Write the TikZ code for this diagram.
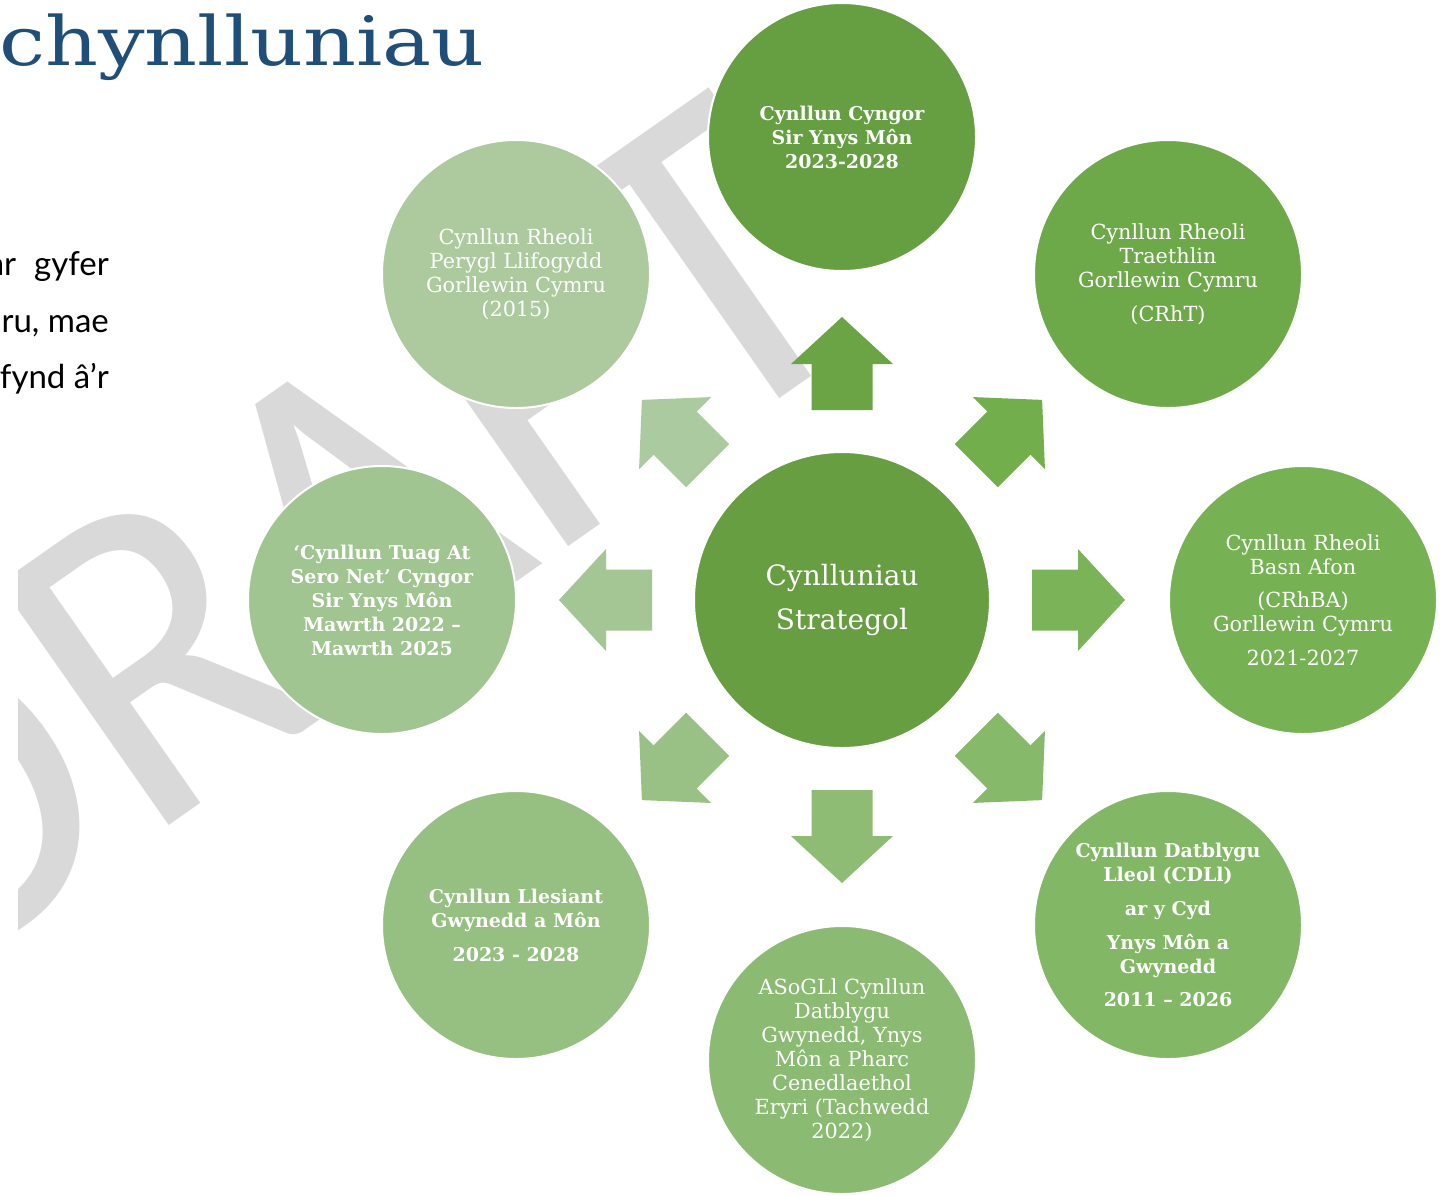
\documentclass[tikz,border=0pt]{standalone}
\usepackage{fontspec}
\setmainfont{DejaVu Serif}
\newfontfamily\latofont{Lato}
\newfontfamily\wmfont{Carlito}
\definecolor{cC}{HTML}{679E41}
\definecolor{cT}{HTML}{659F41}
\definecolor{cTR}{HTML}{6DA948}
\definecolor{cR}{HTML}{76B253}
\definecolor{cBR}{HTML}{82B865}
\definecolor{cB}{HTML}{8BBB72}
\definecolor{cBL}{HTML}{96C081}
\definecolor{cL}{HTML}{A1C591}
\definecolor{cTL}{HTML}{ACCA9E}
\definecolor{aU}{HTML}{6AA444}
\definecolor{aUR}{HTML}{72AE4C}
\definecolor{aR}{HTML}{7BB358}
\definecolor{aDR}{HTML}{86B96A}
\definecolor{aD}{HTML}{8FBC75}
\definecolor{aDL}{HTML}{99C185}
\definecolor{aL}{HTML}{A3C694}
\definecolor{aUL}{HTML}{ACCA9F}
\definecolor{wm}{HTML}{D9D9D9}
\definecolor{titleblue}{HTML}{1F4E79}
\begin{document}
\begin{tikzpicture}[x=1pt,y=-1pt,
  bubble/.style={circle, draw=white, line width=2pt, inner sep=0pt, minimum size=268pt,
    text=white, align=center, font=\fontsize{20.8}{24}\selectfont},
  boldbubble/.style={bubble, font=\fontsize{19}{24}\selectfont\bfseries},
  bodytext/.style={anchor=base east, inner sep=0pt, text=black, font=\latofont\fontsize{33}{38}\selectfont},
  blockarrow/.style={draw=none}]
\useasboundingbox (0,0) rectangle (1448,1195);
\fill[white] (0,0) rectangle (1448,1195);
% watermark
\begin{scope}
  \clip (18,0) rectangle (1448,1195);
  \node[rotate=35, anchor=base, inner sep=0pt, text=wm, font=\wmfont\fontsize{460}{460}\selectfont] (wmark) at (403,662) {\scalebox{0.948}[1]{DRAFT}};
\end{scope}
% title and body text
\node[anchor=base east, inner sep=0pt, text=titleblue, font=\fontsize{68}{80}\selectfont] (title) at (485,65) {\scalebox{1.21}[1]{chynlluniau}};
\node[bodytext] (l1) at (109,275) {ar\hspace{18pt}gyfer};
\node[bodytext] (l2) at (109,332) {mru, mae};
\node[bodytext] (l3) at (109,388) {fynd â’r};
% circles
\node[bubble, minimum size=296pt, fill=cC, font=\fontsize{28}{44}\selectfont] (c) at (842,600) {Cynlluniau\\Strategol};
\node[boldbubble, fill=cT] (t) at (842,137) {Cynllun Cyngor\\Sir Ynys Môn\\2023-2028};
\node[bubble, fill=cTR] (tr) at (1168,274) {Cynllun Rheoli\\Traethlin\\Gorllewin Cymru\\[10pt](CRhT)};
\node[bubble, fill=cR] (r) at (1303,600) {Cynllun Rheoli\\Basn Afon\\[9pt](CRhBA)\\Gorllewin Cymru\\[10pt]2021-2027};
\node[boldbubble, fill=cBR] (br) at (1168,925) {Cynllun Datblygu\\Lleol (CDLl)\\[10pt]ar y Cyd\\[10pt]Ynys Môn a\\Gwynedd\\[9pt]2011 – 2026};
\node[bubble, fill=cB] (b) at (842,1060) {ASoGLl Cynllun\\Datblygu\\Gwynedd, Ynys\\Môn a Pharc\\Cenedlaethol\\Eryri (Tachwedd\\2022)};
\node[boldbubble, fill=cBL] (bl) at (516,925) {Cynllun Llesiant\\Gwynedd a Môn\\[10pt]2023 - 2028};
\node[boldbubble, fill=cL] (l) at (382,600) {‘Cynllun Tuag At\\Sero Net’ Cyngor\\Sir Ynys Môn\\Mawrth 2022 –\\Mawrth 2025};
\node[bubble, fill=cTL] (tl) at (516,274) {Cynllun Rheoli\\Perygl Llifogydd\\Gorllewin Cymru\\(2015)};
% block arrows from the centre
\foreach \ang/\col in {90/aU, 45/aUR, 0/aR, -45/aDR, -90/aD, -135/aDL, 180/aL, 135/aUL}{
  \fill[\col, blockarrow, shift={(c.center)}, rotate=\ang]
    (190,-30.5) -- (236,-30.5) -- (236,-51) -- (283,0) -- (236,51) -- (236,30.5) -- (190,30.5) -- cycle;
}
\end{tikzpicture}
\end{document}
